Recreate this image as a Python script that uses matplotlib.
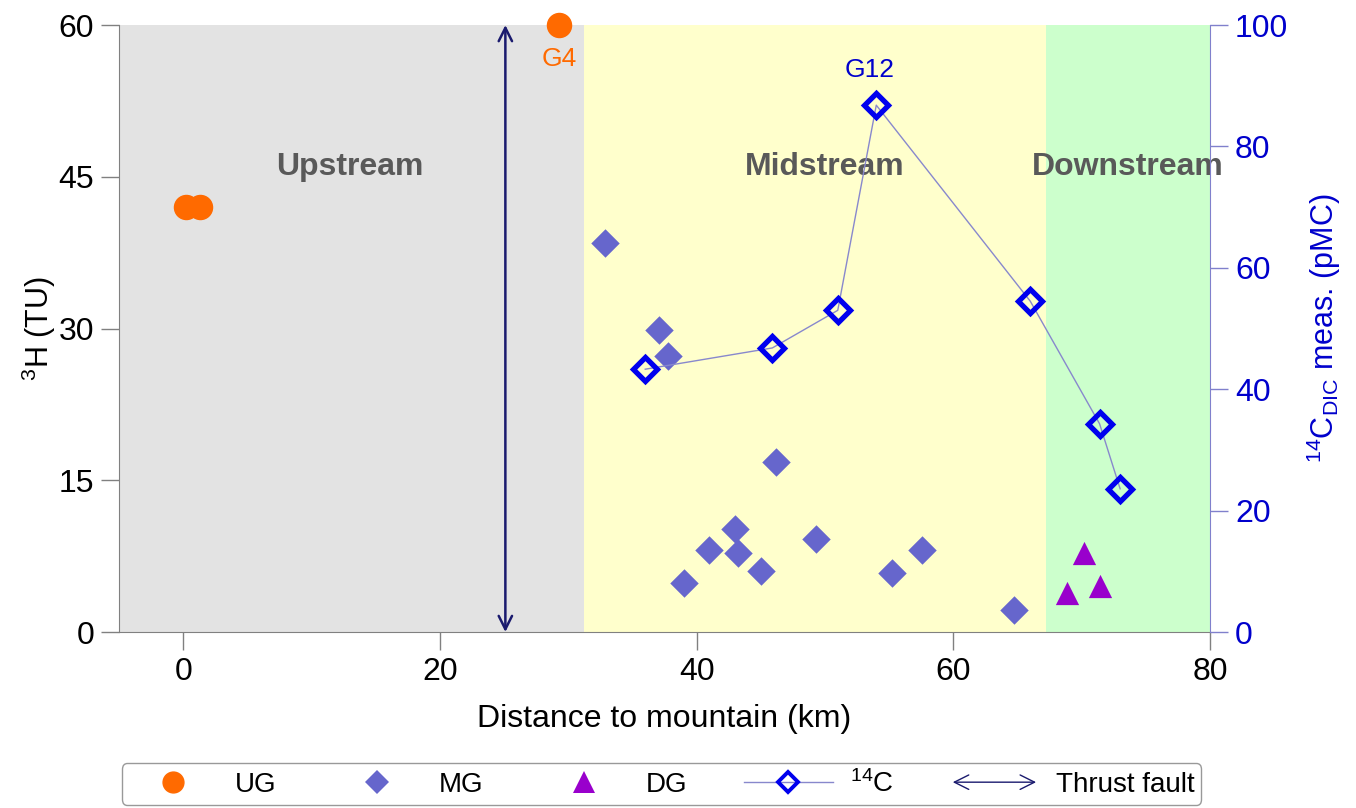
import matplotlib
matplotlib.use('Agg')
import matplotlib.pyplot as plt
import matplotlib.patches as mpatches
from matplotlib.legend_handler import HandlerPatch
from matplotlib.lines import Line2D

plt.rcParams['font.family'] = ['Liberation Sans', 'DejaVu Sans']
plt.rcParams['mathtext.fontset'] = 'custom'
plt.rcParams['mathtext.rm'] = 'Liberation Sans'
plt.rcParams['mathtext.it'] = 'Liberation Sans:italic'
plt.rcParams['mathtext.bf'] = 'Liberation Sans:bold'

# upstream groundwater (3H, TU)
ug_x = [0.2, 1.3, 29.3]
ug_y = [42.0, 42.0, 60.0]

# midstream groundwater (3H, TU)
mg_x = [32.9, 37.1, 37.8, 39.0, 41.0, 43.0, 43.2, 45.0, 46.2, 49.3, 55.2, 57.6, 64.7]
mg_y = [38.5, 29.9, 27.3, 4.8, 8.1, 10.2, 7.8, 6.0, 16.8, 9.2, 5.8, 8.1, 2.2]

# downstream groundwater (3H, TU)
dg_x = [70.2, 68.9, 71.4]
dg_y = [7.8, 3.9, 4.5]

# 14C DIC (pMC)
c14_x = [36.0, 45.9, 51.0, 54.0, 66.0, 71.4, 73.0]
c14_y = [43.3, 46.8, 53.0, 86.8, 54.5, 34.3, 23.6]

# zone limits (km)
zones = [(-5, 31.2, '#e3e3e3', 'Upstream', 13),
         (31.2, 67.2, '#ffffcc', 'Midstream', 50),
         (67.2, 80, '#ccffcc', 'Downstream', 73.6)]
fault_x = 25.1

fig = plt.figure(figsize=(13.56, 8.08), dpi=100)
ax = fig.add_axes([0.0878, 0.2178, 0.8045, 0.7512])
ax2 = ax.twinx()

for x0, x1, col, name, xt in zones:
    ax.axvspan(x0, x1, color=col, zorder=0, lw=0)
    ax.text(xt, 46.0, name, ha='center', va='center', fontsize=23,
            fontweight='bold', color='#595959', zorder=1)

ax.scatter(ug_x, ug_y, s=300, color='#ff6a00', marker='o', zorder=5, clip_on=False)
ax.scatter(mg_x, mg_y, s=210, color='#6666cc', marker='D', zorder=5, lw=0)
ax.scatter(dg_x, dg_y, s=280, color='#9900cc', marker='^', zorder=5, lw=0)
ax.text(29.3, 56.6, 'G4', color='#ff6a00', fontsize=19, ha='center', va='center')

ax.annotate('', xy=(fault_x, 0), xytext=(fault_x, 60),
            arrowprops=dict(arrowstyle='<->', color='#1a1a6e', lw=1.8,
                            mutation_scale=24, shrinkA=0, shrinkB=0), zorder=4)

ax2.plot(c14_x, c14_y, color='#8888cc', lw=1, marker='D', ms=12,
         mfc='none', mec='#0000ee', mew=3.8, zorder=6)
ax2.text(53.5, 92.6, 'G12', color='#0000cc', fontsize=19, ha='center', va='center')

ax.set_xlim(-5, 80)
ax.set_ylim(0, 60)
ax2.set_ylim(0, 100)
ax.set_xticks([0, 20, 40, 60, 80])
ax.set_yticks([0, 15, 30, 45, 60])
ax2.set_yticks([0, 20, 40, 60, 80, 100])

ax.set_xlabel('Distance to mountain (km)', fontsize=23, labelpad=12)
ax.set_ylabel(r'$^{3}$H (TU)', fontsize=22, labelpad=0)
ax2.set_ylabel(r'$^{14}$C$_{\mathrm{DIC}}$ meas. (pMC)', fontsize=22, color='#0000cc', labelpad=12)

ax.tick_params(axis='both', labelsize=23, length=13, width=1, color='#808080',
               direction='out', pad=5)
ax2.tick_params(axis='y', labelsize=23, length=13, width=1, color='#8080cc',
                labelcolor='#0000cc', direction='out', pad=5)
for side in ['left', 'bottom']:
    ax.spines[side].set_color('#808080')
ax.spines['top'].set_visible(False)
ax.spines['right'].set_visible(False)
ax2.spines['top'].set_visible(False)
ax2.spines['left'].set_visible(False)
ax2.spines['bottom'].set_visible(False)
ax2.spines['right'].set_color('#8080cc')


def make_arrow(legend, orig_handle, xdescent, ydescent, width, height, fontsize):
    return mpatches.FancyArrowPatch((-xdescent, height / 2 - ydescent),
                                    (width - xdescent, height / 2 - ydescent),
                                    arrowstyle='<->', mutation_scale=26,
                                    color='#1a1a6e', lw=2)


handles = [
    Line2D([], [], ls='none', marker='o', ms=15, color='#ff6a00'),
    Line2D([], [], ls='none', marker='D', ms=12, color='#6666cc', mew=0),
    Line2D([], [], ls='none', marker='^', ms=16, color='#9900cc', mew=0),
    Line2D([], [], color='#8888cc', lw=1, marker='D', ms=10, mfc='none', mec='#0000ee', mew=2.8),
    mpatches.Patch(color='#1a1a6e'),
]
labels = ['UG', 'MG', 'DG', r'$^{14}$C', 'Thrust fault']
leg = fig.legend(handles, labels, loc='center', ncol=5, mode='expand',
                 bbox_to_anchor=(108 / 1356, 2 / 808, 1107 / 1356, 44 / 808),
                 fontsize=20, frameon=True, fancybox=True, edgecolor='#808080',
                 handlelength=3.2, borderpad=0.25, handletextpad=0.6,
                 handler_map={mpatches.Patch: HandlerPatch(patch_func=make_arrow)})
leg.get_frame().set_linewidth(1)

fig.savefig('out.png', dpi=100)
